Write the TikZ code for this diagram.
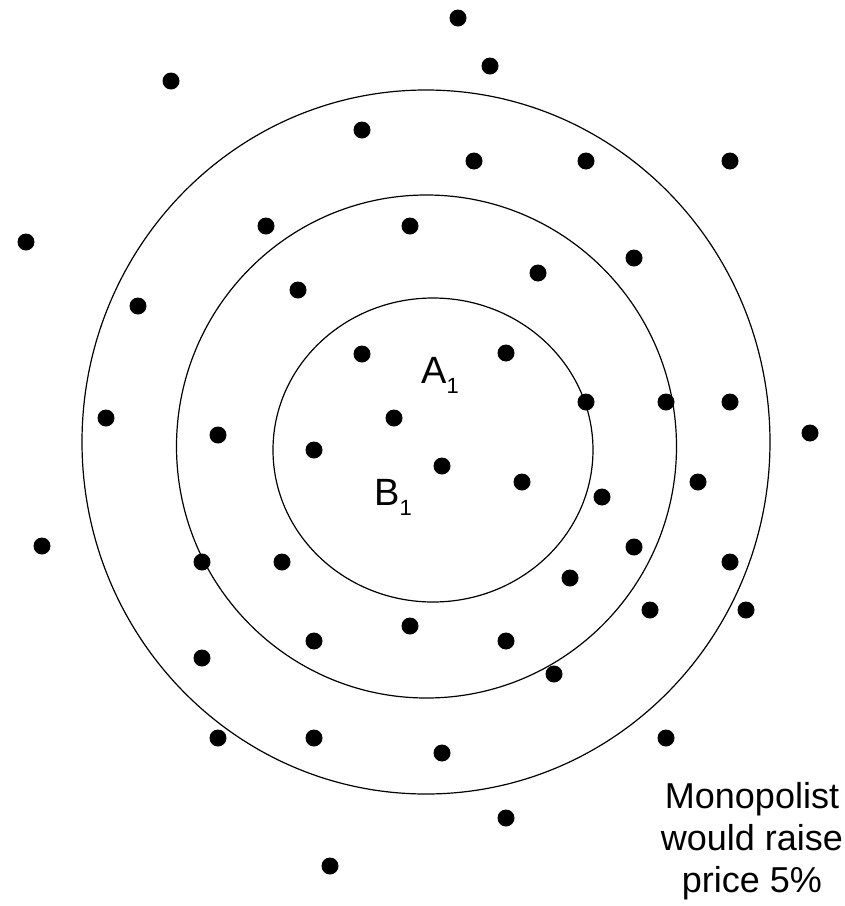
\documentclass[tikz,border=0pt]{standalone}
\usepackage{fontspec}
\setmainfont{Liberation Sans}
\begin{document}
\begin{tikzpicture}[x=1pt,y=-1pt,
  dot/.style={circle,fill=black,inner sep=0pt,minimum size=17pt},
  ring/.style={draw=black,line width=1.2pt},
  lbl/.style={inner sep=0pt,font=\fontsize{38}{40}\selectfont}]
\useasboundingbox (0,0) rectangle (845,906);
% rings
\draw[ring] (433,450) ellipse [x radius=160, y radius=152];
\draw[ring] (426.5,446.5) ellipse [x radius=250, y radius=251.5];
\draw[ring] (426,442) ellipse [x radius=344, y radius=352];
% dots
\foreach \x/\y [count=\i] in {
  458/18, 490/66, 171/81, 362/130, 474/161, 586/161, 730/161,
  26/242, 266/226, 410/226, 634/258, 538/273, 138/306, 298/290,
  362/354, 506/353, 394/418, 106/418, 218/435, 586/402, 666/402,
  730/402, 810/433, 314/450, 442/466, 522/482, 698/482, 602/497,
  42/546, 202/562, 282/562, 634/547, 730/562, 570/578, 650/610,
  746/610, 410/626, 314/641, 506/641, 202/658, 554/674, 218/738,
  314/738, 442/753, 666/738, 506/818, 330/866}
  \node[dot] (d\i) at (\x,\y) {};
% labels
\node[lbl,anchor=base west] (A1) at (421,383) {A\raisebox{-10pt}{\fontsize{22}{22}\selectfont 1}};
\node[lbl,anchor=base west] (B1) at (374,505) {B\raisebox{-10pt}{\fontsize{22}{22}\selectfont 1}};
\node[inner sep=0pt,align=center,anchor=north,font=\fontsize{36}{42}\selectfont] (mono) at (752,782)
  {Monopolist\\would raise\\price 5\%};
\end{tikzpicture}
\end{document}
